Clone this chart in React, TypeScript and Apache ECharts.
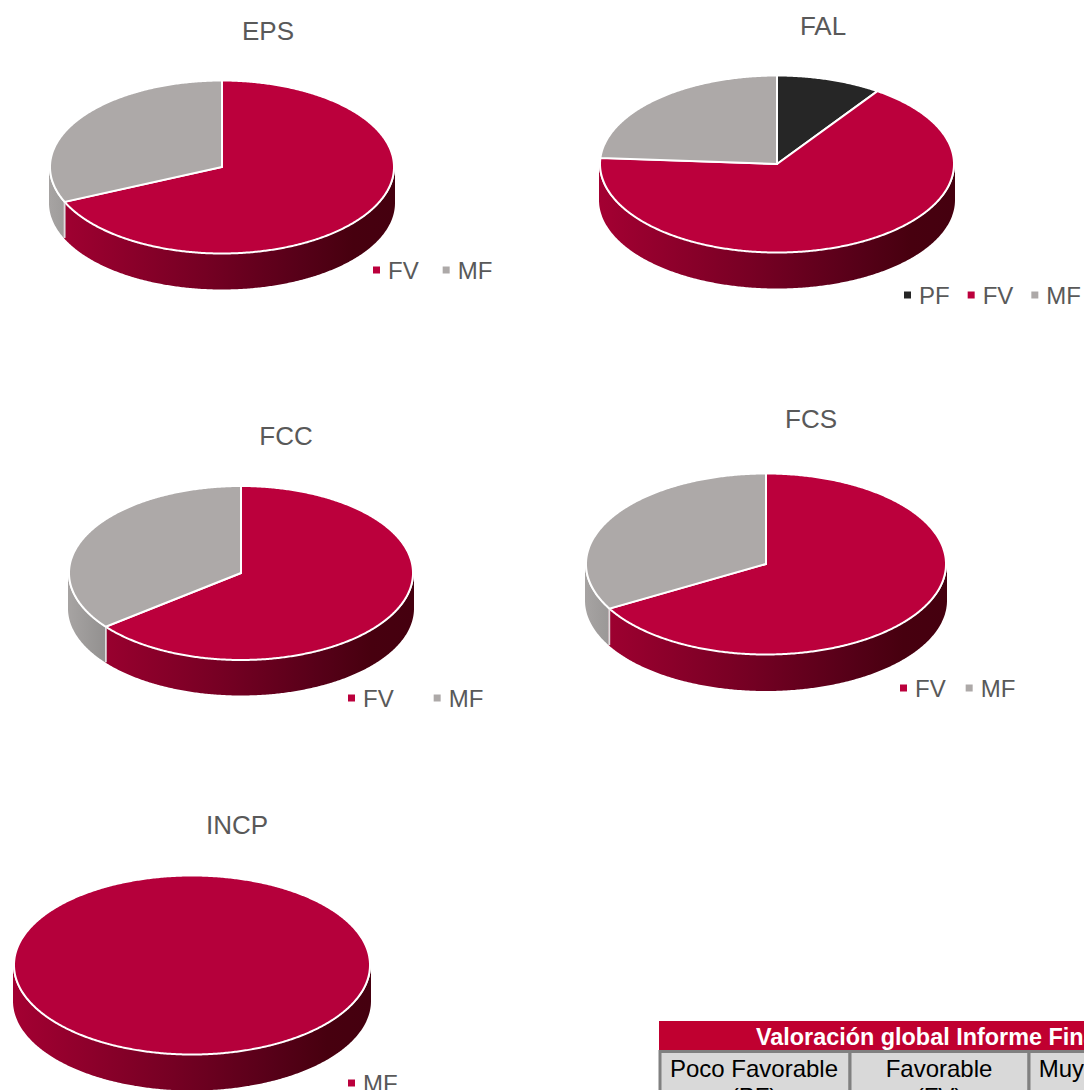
import React, { useEffect, useRef } from "react";
import * as echarts from "echarts";

const W = 1084;
const H = 1090;

// ---- data ----
const epsNames = ["FV", "MF"];
const epsValues = [68.4, 31.6];
const falNames = ["PF", "FV", "MF"];
const falValues = [9.6, 66.5, 23.9];
const fccNames = ["FV", "MF"];
const fccValues = [64.4, 35.6];
const fcsNames = ["FV", "MF"];
const fcsValues = [66.8, 33.2];
const incpNames = ["MF"];
const incpValues = [100];

const tableHeader = "Valoración global Informe Final";
const tableLine1 = ["Poco Favorable", "Favorable", "Muy Favorable"];
const tableLine2 = ["(PF)", "(FV)", "(MF)"];

// ---- styles ----
const RED = "#BB003C";
const GRAY = "#ADA9A8";
const DARK = "#262626";
const TXT = "#595959";
const colorOf: Record<string, string> = { PF: DARK, FV: RED, MF: GRAY };
const redStops = [
  { offset: 0, color: "#45000F" },
  { offset: 0.12, color: "#47000F" },
  { offset: 0.27, color: "#560018" },
  { offset: 0.55, color: "#750023" },
  { offset: 1, color: "#A30032" },
];
const grayStops = [
  { offset: 0, color: "#6E6C6B" },
  { offset: 0.88, color: "#908E8D" },
  { offset: 1, color: "#A6A3A2" },
];
const darkStops = [
  { offset: 0, color: "#0A0A0A" },
  { offset: 1, color: "#1A1A1A" },
];
const wallStops: Record<string, any[]> = { PF: darkStops, FV: redStops, MF: grayStops };

type Pie = {
  title: string; tx: number; ty: number;
  names: string[]; values: number[];
  cx: number; cy: number; rx: number; ry: number; depth: number;
  lx: number; ly: number; gap: number; top?: string; redSide?: boolean;
};

const pies: Pie[] = [
  { title: "EPS", tx: 268, ty: 32, names: epsNames, values: epsValues, cx: 222, cy: 167, rx: 172, ry: 86.5, depth: 36, lx: 373, ly: 272, gap: 24 },
  { title: "FAL", tx: 823, ty: 27, names: falNames, values: falValues, cx: 777, cy: 164, rx: 177, ry: 88.5, depth: 36, lx: 904, ly: 297, gap: 18 },
  { title: "FCC", tx: 286, ty: 437, names: fccNames, values: fccValues, cx: 241, cy: 573, rx: 172, ry: 87, depth: 35.5, lx: 348, ly: 700, gap: 40 },
  { title: "FCS", tx: 811, ty: 420, names: fcsNames, values: fcsValues, cx: 766, cy: 564, rx: 180, ry: 90.5, depth: 36.5, lx: 900, ly: 690, gap: 20 },
  { title: "INCP", tx: 237, ty: 826, names: incpNames, values: incpValues, cx: 192, cy: 965, rx: 178, ry: 89.5, depth: 36, lx: 348, ly: 1085, gap: 20, top: "#B5003B", redSide: true },
];

function pt(p: Pie, a: number, dy = 0, grow = 0): number[] {
  const r = (a * Math.PI) / 180;
  return [p.cx + (p.rx + grow) * Math.sin(r), p.cy - p.ry * Math.cos(r) + dy];
}

function arcPoints(p: Pie, a0: number, a1: number, dy = 0, grow = 0): number[][] {
  const out: number[][] = [];
  const n = Math.max(2, Math.ceil(Math.abs(a1 - a0) * 2));
  for (let i = 0; i <= n; i++) out.push(pt(p, a0 + ((a1 - a0) * i) / n, dy, grow));
  return out;
}

function sliceRenderer(p: Pie, name: string, a0: number, a1: number) {
  const full = a1 - a0 >= 359.9;
  return () => {
    const children: any[] = [];
    // side wall: only the front half (90..270 degrees clockwise from the top)
    const w0 = Math.max(a0, 90);
    const w1 = Math.min(a1, 270);
    if (w1 > w0) {
      const top = arcPoints(p, w0, w1, 0, 1);
      const bottom = arcPoints(p, w1, w0, p.depth, 1);
      children.push({
        type: "polygon",
        shape: { points: top.concat(bottom) },
        style: {
          fill: {
            type: "linear", global: true,
            x: p.cx + p.rx, y: 0, x2: p.cx - p.rx, y2: 0,
            colorStops: wallStops[p.redSide ? "FV" : name],
          },
        },
      });
      [a0, a1].forEach((a) => {
        if (a > 90 && a < 270) {
          const q0 = pt(p, a, 0);
          const q1 = pt(p, a, p.depth);
          children.push({
            type: "line",
            shape: { x1: q0[0], y1: q0[1], x2: q1[0], y2: q1[1] },
            style: { stroke: "#DDDDDD", lineWidth: 1.5 },
          });
        }
      });
    }
    const arc = arcPoints(p, a0, a1);
    const pts = full ? arc : arc.concat([[p.cx, p.cy]]);
    children.push({
      type: "polygon",
      shape: { points: pts },
      style: { fill: p.top || colorOf[name], stroke: "#FFFFFF", lineWidth: 2 },
    });
    return { type: "group", children };
  };
}

const series: any[] = [];
pies.forEach((p) => {
  const total = p.values.reduce((s, v) => s + v, 0);
  let acc = 0;
  p.values.forEach((v, i) => {
    const a0 = (acc / total) * 360;
    acc += v;
    const a1 = (acc / total) * 360;
    series.push({
      type: "custom",
      name: p.names[i],
      coordinateSystem: "none",
      silent: true,
      data: [[v]],
      itemStyle: { color: colorOf[p.names[i]] },
      renderItem: sliceRenderer(p, p.names[i], a0, a1),
    });
  });
});

const titles = pies.map((p) => ({
  text: p.title,
  left: p.tx,
  top: p.ty - 14,
  textAlign: "center",
  padding: 0,
  textStyle: { fontFamily: "Liberation Sans", fontSize: 26, fontWeight: "normal", color: TXT },
}));

const legends = pies.map((p) => ({
  show: true,
  orient: "horizontal",
  left: p.lx,
  top: p.ly - 14,
  width: 400,
  padding: 0,
  itemWidth: 7,
  itemHeight: 7,
  itemGap: p.gap,
  icon: "rect",
  selectedMode: false,
  textStyle: { fontFamily: "Liberation Sans", fontSize: 24, color: TXT, padding: [0, 0, 0, 3] },
  data: p.names.map((n) => ({
    name: n,
    icon: "rect",
    itemStyle: { color: p.redSide ? RED : colorOf[n] },
  })),
}));

// table, drawn as graphic elements
const BORDER = "#808080";
const CELL = "#D9D9D9";
const columns = [
  { x: 660, w: 190, c: 754 },
  { x: 850, w: 179, c: 939 },
  { x: 1029, w: 190, c: 1118 },
];
const tableEls: any[] = [
  { type: "rect", shape: { x: 659, y: 1021, width: 425, height: 30 }, style: { fill: "#C00030" } },
  {
    type: "text", x: 756, y: 1037,
    style: { text: tableHeader, fill: "#ffffff", font: "bold 23.4px 'Liberation Sans'", textAlign: "left", textVerticalAlign: "middle" },
  },
];
columns.forEach((c, i) => {
  tableEls.push({
    type: "rect",
    shape: { x: c.x, y: 1051.5, width: c.w, height: 80 },
    style: { fill: CELL, stroke: BORDER, lineWidth: 3 },
  });
  tableEls.push({
    type: "text", x: c.c, y: 1068,
    style: { text: tableLine1[i], fill: "#000000", font: "24px 'Liberation Sans'", textAlign: "center", textVerticalAlign: "middle" },
  });
  tableEls.push({
    type: "text", x: c.c, y: 1096,
    style: { text: tableLine2[i], fill: "#000000", font: "24px 'Liberation Sans'", textAlign: "center", textVerticalAlign: "middle" },
  });
});

export default function App() {
  const ref = useRef<HTMLDivElement>(null);
  useEffect(() => {
    document.body.style.margin = "0";
    const chart = echarts.init(ref.current!, undefined, { renderer: "svg" });
    chart.setOption({
      animation: false,
      backgroundColor: "#ffffff",
      title: titles,
      legend: legends,
      series,
      graphic: { elements: tableEls },
    });
    return () => chart.dispose();
  }, []);
  return <div ref={ref} style={{ width: W, height: H, overflow: "hidden" }} />;
}
